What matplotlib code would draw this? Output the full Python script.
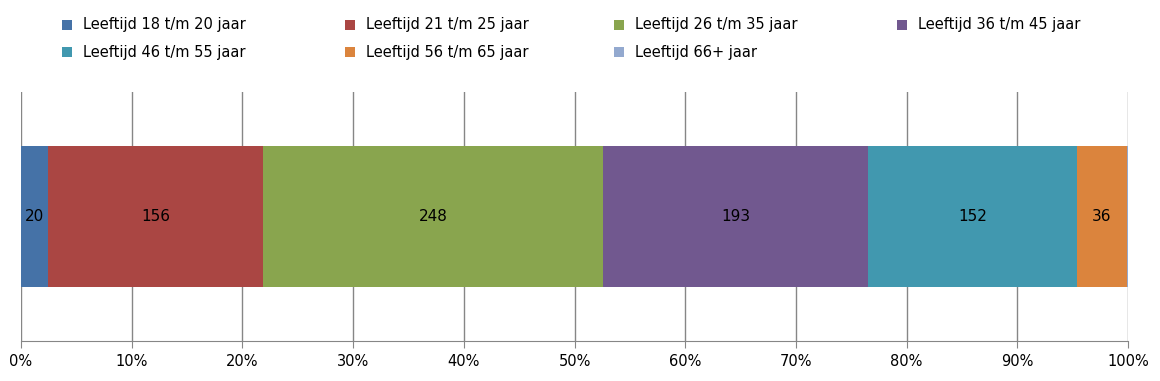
import matplotlib.pyplot as plt
from matplotlib.patches import Rectangle
from matplotlib.ticker import PercentFormatter

plt.rcParams["font.family"] = ["DejaVu Sans"]

categories = ["Leeftijd 18 t/m 20 jaar", "Leeftijd 21 t/m 25 jaar", "Leeftijd 26 t/m 35 jaar",
              "Leeftijd 36 t/m 45 jaar", "Leeftijd 46 t/m 55 jaar", "Leeftijd 56 t/m 65 jaar",
              "Leeftijd 66+ jaar"]
counts = [20, 156, 248, 193, 152, 36, 1]
labels = ["20", "156", "248", "193", "152", "36", ""]
colors = ["#4572A7", "#AA4643", "#89A54E", "#71588F", "#4198AF", "#DB843D", "#93A9CF"]

total = sum(counts)
shares = [c / total * 100 for c in counts]

W, H = 1160, 381
fig = plt.figure(figsize=(W / 100, H / 100), dpi=100)
ax = fig.add_axes([21 / W, 1 - 341 / H, 1107 / W, 249 / H])

left = 0
for share, lab, col in zip(shares, labels, colors):
    ax.barh(0, share, left=left, height=0.57, color=col, zorder=3)
    if lab:
        ax.text(left + share / 2, 0, lab, ha="center", va="center", fontsize=11, color="black", zorder=4)
    left += share

ax.set_xlim(0, 100)
ax.set_ylim(-0.5, 0.5)
ax.set_xticks(range(0, 101, 10))
ax.xaxis.set_major_formatter(PercentFormatter(decimals=0))
ax.set_yticks([])
ax.grid(axis="x", color="#868686", linewidth=1, zorder=0)
for side in ["top", "right", "left"]:
    ax.spines[side].set_visible(False)
ax.spines["bottom"].set_color("#868686")
ax.tick_params(axis="x", colors="#868686", length=5, labelsize=10.5, labelcolor="black", pad=4)

# legend, laid out row by row like the original
col_x = [62, 345, 614, 897]
row_y = [25, 52]
for i, (cat, col) in enumerate(zip(categories, colors)):
    x = col_x[i % 4]
    y = row_y[i // 4]
    fig.patches.append(Rectangle((x / W, 1 - (y + 5) / H), 10 / W, 10 / H,
                                 transform=fig.transFigure, facecolor=col, edgecolor="none"))
    fig.text((x + 21) / W, 1 - y / H, cat, ha="left", va="center", fontsize=10.5)

fig.savefig("out.png", dpi=100)
